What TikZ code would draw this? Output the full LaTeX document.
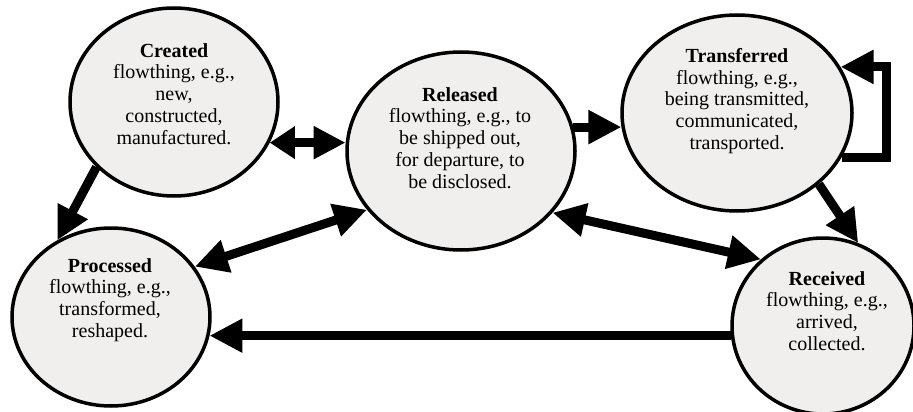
\documentclass[tikz,border=0pt]{standalone}
\usepackage{fontspec}
\setmainfont{Liberation Serif}
\usetikzlibrary{shapes.geometric,arrows.meta}
\definecolor{stateFill}{HTML}{F0EFEE}
\begin{document}
\begin{tikzpicture}[x=1pt,y=-1pt,
  state/.style={ellipse, draw=black, line width=3.5pt, fill=stateFill, inner sep=0pt},
  stext/.style={align=center, font=\fontsize{20}{21.8}\selectfont, inner sep=0pt},
  flow/.style={line width=9pt, -{Triangle[length=33pt,width=32pt]}},
  flowboth/.style={line width=9pt, {Triangle[length=33pt,width=32pt]}-{Triangle[length=33pt,width=32pt]}},
  flowshort/.style={line width=9pt, {Triangle[length=25pt,width=31pt]}-{Triangle[length=32pt,width=31pt]}},
]
\useasboundingbox (0,0) rectangle (913,412);

% states of a flowthing
\node[state, minimum width=208pt, minimum height=188pt] (cr) at (174,102) {};
\node[state, minimum width=228pt, minimum height=198pt] (rel) at (461,151) {};
\node[state, minimum width=230pt, minimum height=196pt] (tr) at (737,113) {};
\node[state, minimum width=198pt, minimum height=178pt] (pr) at (111,317) {};
\node[state, minimum width=182pt, minimum height=176pt] (rec) at (823,326) {};

\node[stext] (crt) at (174,94) {\textbf{Created}\\flowthing, e.g.,\\new,\\constructed,\\manufactured.};
\node[stext] (relt) at (460,138) {\textbf{Released}\\flowthing, e.g., to\\be shipped out,\\for departure, to\\be disclosed.};
\node[stext] (trt) at (737,101) {\textbf{Transferred}\\flowthing, e.g.,\\being transmitted,\\communicated,\\transported.};
\node[stext] (prt) at (110,300) {\textbf{Processed}\\flowthing, e.g.,\\transformed,\\reshaped.};
\node[stext] (rect) at (827,311) {\textbf{Received}\\flowthing, e.g.,\\arrived,\\collected.};

% flows between the states
\draw[flowshort] (cr.-23.7) -- (rel.176 |- cr.-23.7);
\draw[flow] (rel.12.2) -- (tr.187 |- rel.12.2);
\draw[flow] (cr.220.4) -- (pr.125.2);
\draw[flowboth] (pr.31.4) -- (rel.212);
\draw[flowboth] (rel.-34.4) -- (rec.133.5);
\draw[flow] (tr.-41.7) -- (rec.67.4);
\draw[flow] (rec.186.9) -- (pr.-11.7 |- rec.186.9);

% transfer loop on itself
\coordinate (loopx) at (886,0);
\draw[flow] (tr.-23.8) -- (tr.-23.8 -| loopx) -- (tr.24.4 -| loopx) -- (tr.24.4);
\end{tikzpicture}
\end{document}
